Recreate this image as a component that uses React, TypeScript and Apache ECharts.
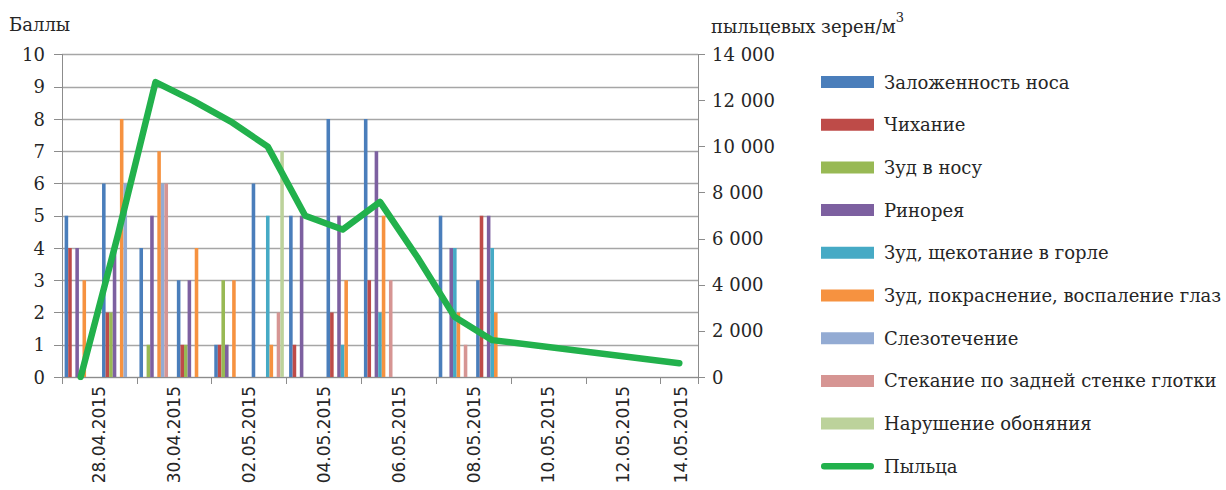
import React, { useEffect, useRef } from "react";
import * as echarts from "echarts";

const dates = [
  "28.04.2015", "29.04.2015", "30.04.2015", "01.05.2015", "02.05.2015", "03.05.2015",
  "04.05.2015", "05.05.2015", "06.05.2015", "07.05.2015", "08.05.2015", "09.05.2015",
  "10.05.2015", "11.05.2015", "12.05.2015", "13.05.2015", "14.05.2015",
];

const symptomNames = [
  "Заложенность носа",
  "Чихание",
  "Зуд в носу",
  "Ринорея",
  "Зуд, щекотание в горле",
  "Зуд, покраснение, воспаление глаз",
  "Слезотечение",
  "Стекание по задней стенке глотки",
  "Нарушение обоняния",
];

const congestion = [5, 6, 4, 3, 1, 6, 5, 8, 8, 0, 5, 3, 0, 0, 0, 0, 0];
const sneezing = [4, 2, 0, 1, 1, 0, 1, 2, 3, 0, 0, 5, 0, 0, 0, 0, 0];
const itchNose = [0, 2, 1, 1, 3, 0, 0, 0, 0, 0, 0, 0, 0, 0, 0, 0, 0];
const rhinorrhea = [4, 4, 5, 3, 1, 0, 5, 5, 7, 0, 4, 5, 0, 0, 0, 0, 0];
const throatItch = [0, 0, 0, 0, 0, 5, 0, 1, 2, 0, 4, 4, 0, 0, 0, 0, 0];
const eyes = [3, 8, 7, 4, 3, 1, 0, 3, 5, 0, 2, 2, 0, 0, 0, 0, 0];
const tearing = [0, 6, 6, 0, 0, 0, 0, 0, 0, 0, 0, 0, 0, 0, 0, 0, 0];
const postnasal = [0, 0, 6, 0, 0, 2, 0, 0, 3, 0, 1, 0, 0, 0, 0, 0, 0];
const smellLoss = [0, 0, 0, 0, 0, 7, 0, 0, 0, 0, 0, 0, 0, 0, 0, 0, 0];

const pollenName = "Пыльца";
const pollen = [0, 6200, 12800, 12000, 11100, 10000, 7000, 6400, 7600, 5200, 2600, 1600, null, null, null, null, 600];

const symptomValues = [congestion, sneezing, itchNose, rhinorrhea, throatItch, eyes, tearing, postnasal, smellLoss];
const symptomColors = ["#4A7EBB", "#BE4B48", "#98B954", "#7D60A0", "#46AAC5", "#F69240", "#93ABD3", "#D69593", "#BCD29B"];
const pollenColor = "#22B14C";

const leftTitle = "Баллы";
const rightTitleMain = "пыльцевых зерен/м";
const rightTitleSup = "3";
const labelPositions = [1, 3, 5, 7, 9, 11, 13, 15, 16.55];

const SERIF = "'DejaVu Serif', serif";
const SANS = "'DejaVu Sans', sans-serif";
const TEXT = "#262626";

function fmtThousands(v: number): string {
  return String(v).replace(/\B(?=(\d{3})+(?!\d))/g, " ");
}

export default function App() {
  const ref = useRef<HTMLDivElement>(null);

  useEffect(() => {
    document.body.style.margin = "0";
    const chart = echarts.init(ref.current!, null, { renderer: "svg" });
    const linePath =
      "path://M3.5,0 L54.5,0 A3.5,3.5 0 0 1 54.5,7 L3.5,7 A3.5,3.5 0 0 1 3.5,0 Z";

    const option: any = {
      animation: false,
      backgroundColor: "#ffffff",
      title: [
        {
          text: leftTitle,
          left: 9,
          top: 15,
          padding: 0,
          textStyle: { fontFamily: SERIF, fontSize: 18, fontWeight: "normal", color: TEXT },
        },
        {
          text: "{m|" + rightTitleMain + "}{s|" + rightTitleSup + "}",
          left: 711,
          top: 11,
          padding: 0,
          textStyle: {
            fontFamily: SERIF,
            fontSize: 18,
            fontWeight: "normal",
            color: TEXT,
            rich: {
              m: { fontFamily: SERIF, fontSize: 18, color: TEXT, lineHeight: 24, verticalAlign: "bottom" },
              s: { fontFamily: SERIF, fontSize: 13, color: TEXT, lineHeight: 14, verticalAlign: "top" },
            },
          },
        },
      ],
      legend: {
        orient: "vertical",
        left: 821,
        top: 72,
        itemWidth: 53,
        itemHeight: 12,
        itemGap: 22.7,
        padding: 0,
        selectedMode: false,
        textStyle: {
          fontFamily: SERIF,
          fontSize: 18,
          color: TEXT,
          lineHeight: 20,
          padding: [0, 0, 0, 5],
        },
        data: [
          ...symptomNames.map((n) => ({ name: n, icon: "rect" })),
          { name: pollenName, icon: linePath },
        ],
      },
      grid: { left: 62, right: 528, top: 54.5, bottom: 113, containLabel: false },
      xAxis: [
        {
          type: "category",
          data: dates,
          boundaryGap: true,
          axisLine: { show: true, lineStyle: { color: "#8C8C8C", width: 1 } },
          axisTick: { show: true, interval: 1, length: 7, lineStyle: { color: "#8C8C8C" } },
          axisLabel: { show: false },
          splitLine: { show: false },
        },
        {
          type: "value",
          min: 0,
          max: 17,
          position: "bottom",
          axisLine: { show: false },
          axisTick: { show: false },
          splitLine: { show: false },
          axisLabel: {
            show: true,
            customValues: labelPositions,
            rotate: 90,
            margin: 9,
            fontFamily: SANS,
            fontSize: 17,
            color: TEXT,
            formatter: (v: number) => (v > 16 ? dates[16] : dates[Math.round(v) - 1]),
          },
        },
      ],
      yAxis: [
        {
          type: "value",
          min: 0,
          max: 10,
          interval: 1,
          axisLine: { show: true, lineStyle: { color: "#8C8C8C", width: 1 } },
          axisTick: { show: true, length: 8, lineStyle: { color: "#8C8C8C" } },
          splitLine: { show: true, lineStyle: { color: "#A6A6A6", width: 1.3 } },
          axisLabel: { margin: 17, fontFamily: SERIF, fontSize: 18, color: TEXT },
        },
        {
          type: "value",
          min: 0,
          max: 14000,
          interval: 2000,
          position: "right",
          axisLine: { show: true, lineStyle: { color: "#8C8C8C", width: 1 } },
          axisTick: { show: true, length: 7, lineStyle: { color: "#8C8C8C" } },
          splitLine: { show: false },
          axisLabel: {
            margin: 14,
            fontFamily: SERIF,
            fontSize: 18,
            color: TEXT,
            formatter: (v: number) => fmtThousands(v),
          },
        },
      ],
      series: [
        ...symptomNames.map((n, i) => ({
          name: n,
          type: "bar",
          xAxisIndex: 0,
          yAxisIndex: 0,
          data: symptomValues[i],
          barGap: "0%",
          barCategoryGap: "14%",
          itemStyle: { color: symptomColors[i] },
          z: 2,
        })),
        {
          name: pollenName,
          type: "line",
          xAxisIndex: 0,
          yAxisIndex: 1,
          data: pollen,
          connectNulls: true,
          symbol: "none",
          itemStyle: { color: pollenColor },
          lineStyle: { color: pollenColor, width: 6.5, cap: "round", join: "round" },
          z: 5,
        },
      ],
    };
    chart.setOption(option);
    return () => chart.dispose();
  }, []);

  return <div ref={ref} style={{ width: 1226, height: 490 }} />;
}
